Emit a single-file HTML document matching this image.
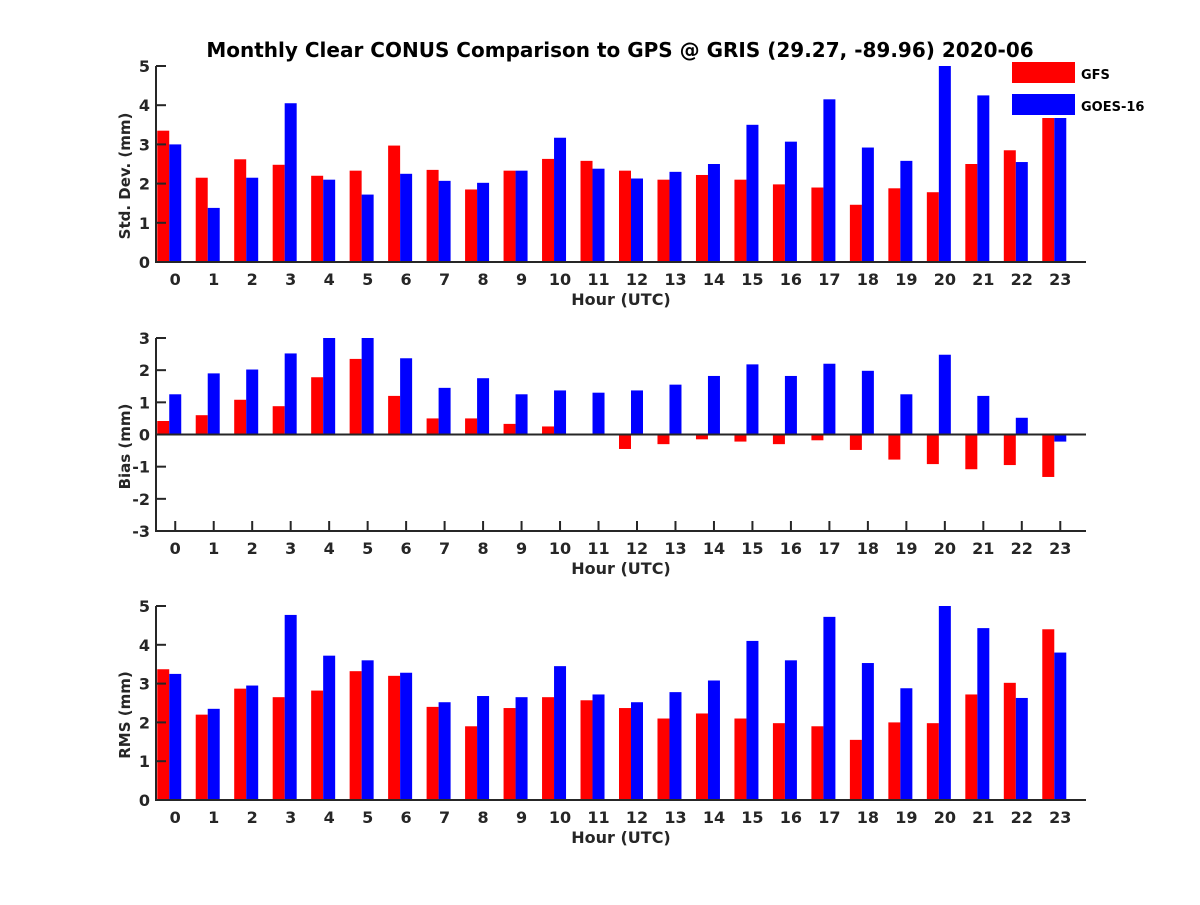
<!DOCTYPE html>
<html><head><meta charset="utf-8"><style>
body{margin:0;background:#fff}
svg text{font-family:"DejaVu Sans","Liberation Sans",sans-serif;font-weight:bold;fill:#262626}
</style></head><body>
<svg id="chart" width="1200" height="900" xmlns="http://www.w3.org/2000/svg">
<rect width="1200" height="900" fill="#fff"/>
<text x="620" y="57" font-size="20" text-anchor="middle" style="fill:#000">Monthly Clear CONUS Comparison to GPS @ GRIS (29.27, -89.96) 2020-06</text>
<g id="plots"></g>
<g>
<rect x="1010" y="60" width="145" height="58" fill="#fff"/>
<rect x="1012" y="62" width="63" height="21" fill="#ff0000"/>
<text x="1081" y="79" font-size="13" style="fill:#000">GFS</text>
<rect x="1012" y="94" width="63" height="21" fill="#0000ff"/>
<text x="1081" y="111" font-size="13" style="fill:#000">GOES-16</text>
</g>
</svg>
<script>
const hours = [0,1,2,3,4,5,6,7,8,9,10,11,12,13,14,15,16,17,18,19,20,21,22,23];
const stdGFS = [3.35,2.15,2.62,2.48,2.2,2.33,2.97,2.35,1.85,2.33,2.63,2.58,2.33,2.1,2.22,2.1,1.98,1.9,1.46,1.88,1.78,2.5,2.85,4.0];
const stdGOES = [3.0,1.38,2.15,4.05,2.1,1.72,2.25,2.07,2.02,2.33,3.17,2.38,2.13,2.3,2.5,3.5,3.07,4.15,2.92,2.58,5.0,4.25,2.55,3.9];
const biasGFS = [0.42,0.6,1.08,0.88,1.78,2.35,1.2,0.5,0.5,0.33,0.25,0.02,-0.45,-0.3,-0.15,-0.22,-0.3,-0.18,-0.48,-0.78,-0.92,-1.08,-0.95,-1.32];
const biasGOES = [1.25,1.9,2.02,2.52,3.0,3.0,2.37,1.45,1.75,1.25,1.37,1.3,1.37,1.55,1.82,2.18,1.82,2.2,1.98,1.25,2.48,1.2,0.52,-0.22];
const rmsGFS = [3.37,2.2,2.87,2.65,2.82,3.32,3.2,2.4,1.9,2.37,2.65,2.57,2.37,2.1,2.23,2.1,1.98,1.9,1.55,2.0,1.98,2.72,3.02,4.4];
const rmsGOES = [3.25,2.35,2.95,4.77,3.72,3.6,3.28,2.52,2.68,2.65,3.45,2.72,2.52,2.78,3.08,4.1,3.6,4.72,3.53,2.88,5.0,4.43,2.63,3.8];
const stdTicks = [0,1,2,3,4,5];
const biasTicks = [-3,-2,-1,0,1,2,3];
const rmsTicks = [0,1,2,3,4,5];

const NS="http://www.w3.org/2000/svg";
const root=document.getElementById('plots');
function el(t,a,p){const e=document.createElementNS(NS,t);for(const k in a)e.setAttribute(k,a[k]);(p||root).appendChild(e);return e;}
const X0=156,X1=1086;
function xs(h){return X0+(h+0.5)*38.48;}

function panel(name,top,bottom,ymin,ymax,ticks,ylabel,gfs,goes){
  const g=el('g',{});
  
  
  const ys=v=>bottom-(v-ymin)/(ymax-ymin)*(bottom-top);
  const base=ys(Math.max(ymin,Math.min(0,ymax)));
  hours.forEach(h=>{
    const x=xs(h);
    el('line',{x1:x,x2:x,y1:bottom,y2:bottom-10,stroke:'#262626','stroke-width':2},g);
    const tx=el('text',{x:x,y:bottom+23,'font-size':16,'text-anchor':'middle'},g);
    tx.textContent=h;
    
    
  });
  hours.forEach((h,i)=>{
    const t=xs(h);
    [[gfs[i],t-18,'#ff0000','gfs'],[goes[i],t-6,'#0000ff','goes']].forEach(([v,x,c,s])=>{
      const y=ys(v);
      const r=el('rect',{x:x,y:Math.min(y,base),width:12,height:Math.abs(base-y),fill:c},g);
      
      
    });
  });
  if(ymin<0){const z=el('line',{x1:X0,x2:X1,y1:base,y2:base,stroke:'#262626','stroke-width':2},g);
    }
  const ax=el('path',{d:`M${X0} ${top}V${bottom}H${X1}`,fill:'none',stroke:'#262626','stroke-width':2},g);
  
  
  ticks.forEach(v=>{
    const y=ys(v);
    el('line',{x1:X0,x2:X0+10,y1:y,y2:y,stroke:'#262626','stroke-width':2},g);
    const tx=el('text',{x:X0-6,y:y+6,'font-size':16,'text-anchor':'end'},g);
    tx.textContent=v;
    
    
  });
  const xt=el('text',{x:(X0+X1)/2,y:bottom+43,'font-size':16,'text-anchor':'middle'},g);
  xt.textContent='Hour (UTC)';
  
  
  const cy=(top+bottom)/2+12;
  const yt=el('text',{x:130,y:cy,'font-size':15,'text-anchor':'middle',transform:`rotate(-90 130 ${cy})`},g);
  yt.textContent=ylabel;
  
  
}
panel('std',66,262,0,5,stdTicks,'Std. Dev. (mm)',stdGFS,stdGOES);
panel('bias',338,531,-3,3,biasTicks,'Bias (mm)',biasGFS,biasGOES);
panel('rms',606,800,0,5,rmsTicks,'RMS (mm)',rmsGFS,rmsGOES);
</script>
</body></html>
